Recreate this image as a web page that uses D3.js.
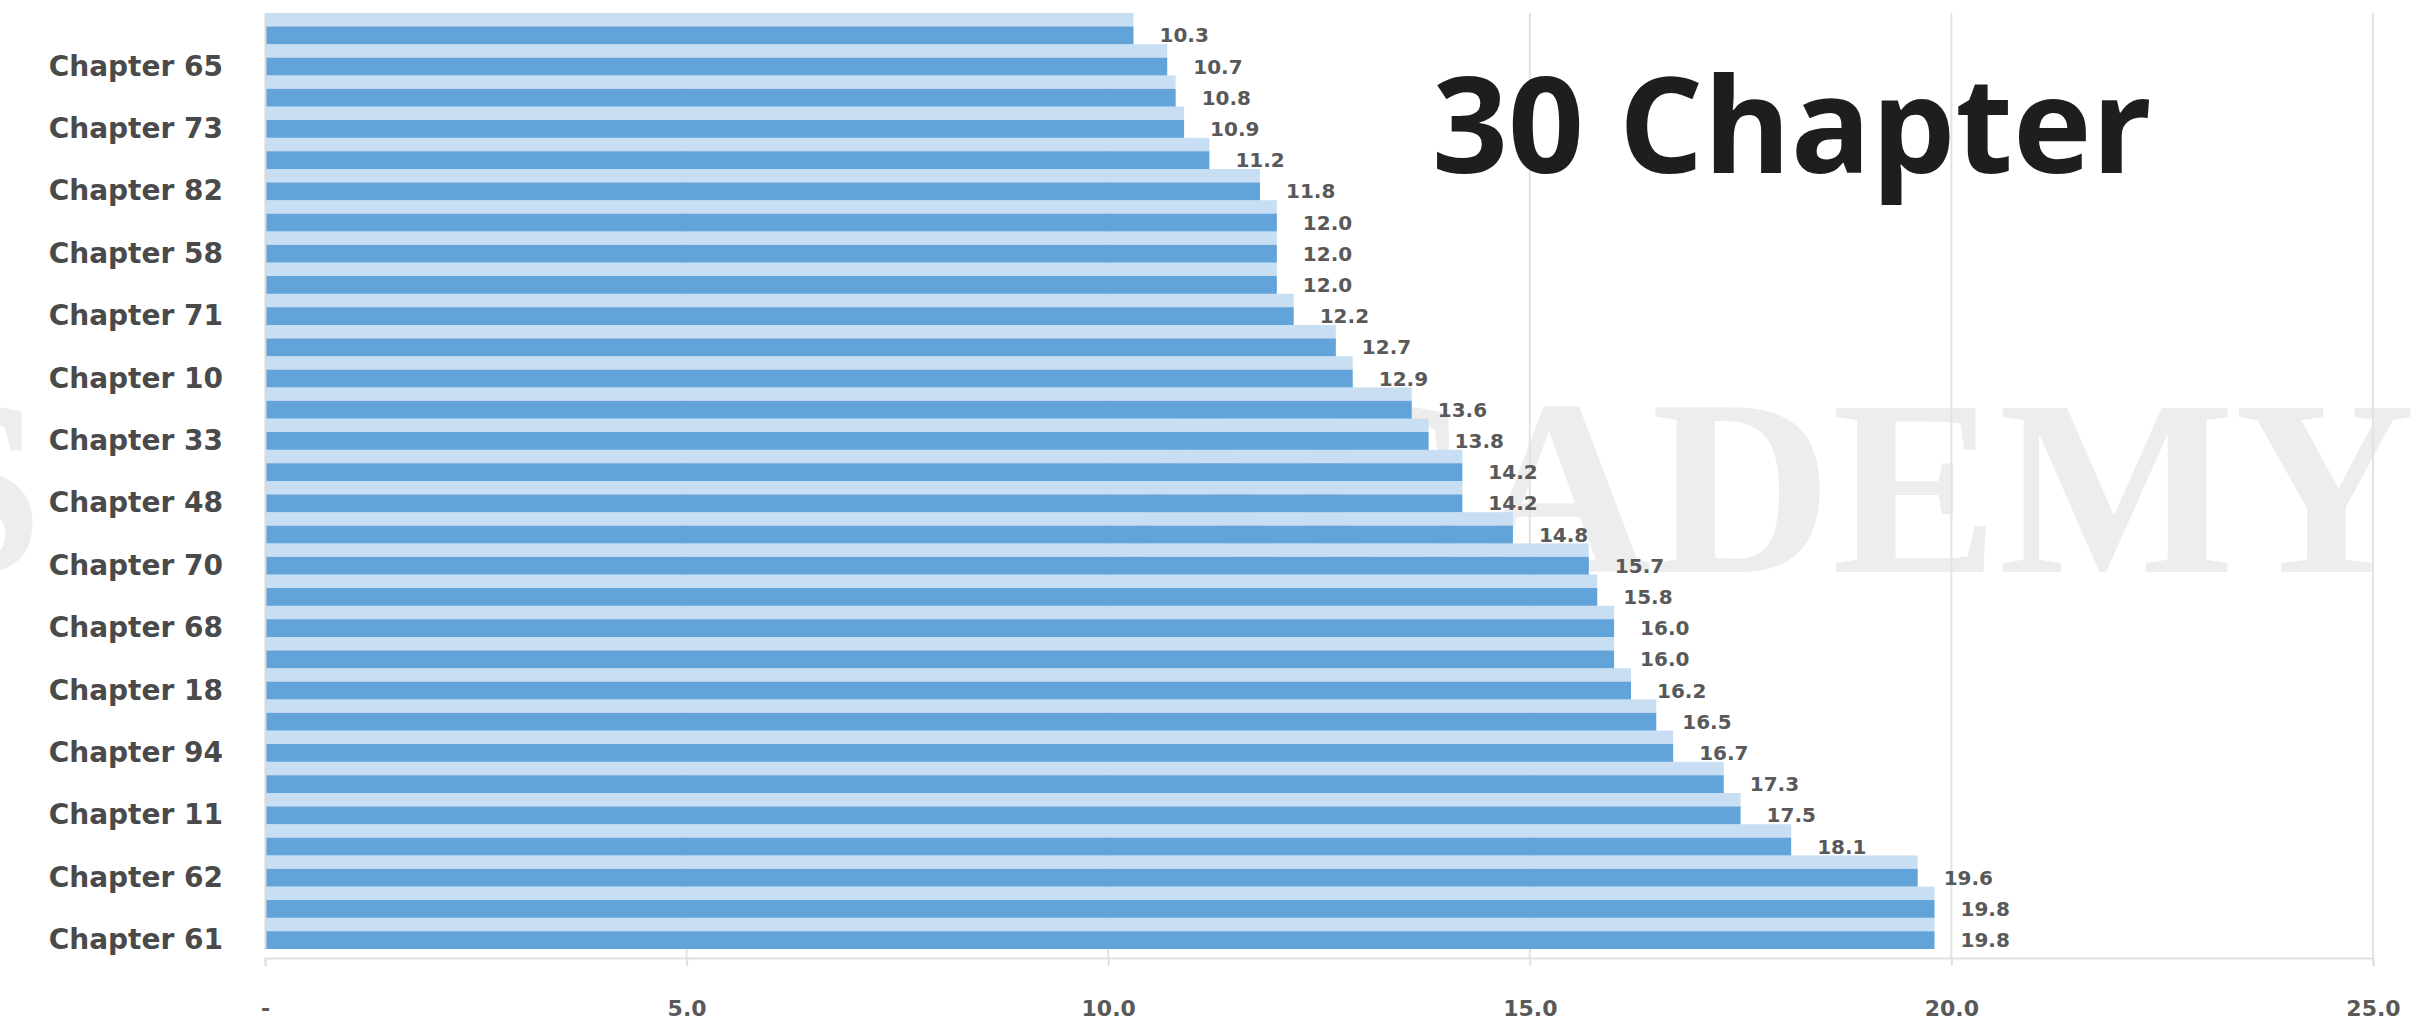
<!DOCTYPE html>
<html>
<head>
<meta charset="utf-8">
<script src="https://cdn.jsdelivr.net/npm/d3@7"></script>
<style>
  html, body { margin: 0; padding: 0; background: #ffffff; }
  svg { display: block; }
</style>
</head>
<body>
<svg id="chart" width="2419" height="1025"></svg>
<script>
// ---- data (top to bottom as drawn) ----
const categories = [
  "Chapter 86", "Chapter 65", "Chapter 90", "Chapter 73", "Chapter 77",
  "Chapter 82", "Chapter 45", "Chapter 58", "Chapter 29", "Chapter 71",
  "Chapter 52", "Chapter 10", "Chapter 37", "Chapter 33", "Chapter 24",
  "Chapter 48", "Chapter 80", "Chapter 70", "Chapter 41", "Chapter 68",
  "Chapter 56", "Chapter 18", "Chapter 15", "Chapter 94", "Chapter 66",
  "Chapter 11", "Chapter 89", "Chapter 62", "Chapter 50", "Chapter 61"
];
const values = [
  10.3, 10.7, 10.8, 10.9, 11.2,
  11.8, 12.0, 12.0, 12.0, 12.2,
  12.7, 12.9, 13.6, 13.8, 14.2,
  14.2, 14.8, 15.7, 15.8, 16.0,
  16.0, 16.2, 16.5, 16.7, 17.3,
  17.5, 18.1, 19.6, 19.8, 19.8
];
// every other category label is shown (Excel skips alternate labels)
const shownLabels = categories.filter((c, i) => i % 2 === 1);
const xTickValues = [0, 5, 10, 15, 20, 25];
const xTickLabels = ["-", "5.0", "10.0", "15.0", "20.0", "25.0"];
const titleText = "30 Chapter";

const data = categories.map((c, i) => ({ cat: c, v: values[i] }));

const svg = d3.select("#chart");

const x = d3.scaleLinear().domain([0, 25]).range([265, 2373]);
const y = d3.scaleBand().domain(categories).range([13, 949]).padding(0);

const plotTop = 13, plotBottom = 958;

// watermark (behind everything)
const wm = svg.append("g").attr("class", "watermark")
  .attr("font-family", "'Liberation Serif', 'DejaVu Serif', serif")
  .attr("font-weight", "bold")
  .attr("font-size", 250)
  .attr("fill", "#ededed");
wm.append("text").attr("x", -96).attr("y", 572).text("S");
wm.append("text").attr("x", 2415).attr("y", 572).attr("text-anchor", "end").text("ACADEMY");

// vertical gridlines
svg.append("g").attr("class", "grid")
  .selectAll("line")
  .data(xTickValues.slice(1))
  .join("line")
  .attr("x1", d => x(d)).attr("x2", d => x(d))
  .attr("y1", plotTop).attr("y2", plotBottom)
  .attr("stroke", "#e3e3e3").attr("stroke-width", 2);

// bars: light upper part + dark lower part
const bh = y.bandwidth();
const lightFrac = 0.43;
const bars = svg.append("g").attr("class", "bars");
bars.selectAll("rect.light")
  .data(data)
  .join("rect")
  .attr("class", "light")
  .attr("x", x(0))
  .attr("y", d => y(d.cat))
  .attr("width", d => x(d.v) - x(0))
  .attr("height", bh * lightFrac)
  .attr("fill", "#c8dff3");
bars.selectAll("rect.dark")
  .data(data)
  .join("rect")
  .attr("class", "dark")
  .attr("x", x(0))
  .attr("y", d => y(d.cat) + bh * lightFrac)
  .attr("width", d => x(d.v) - x(0))
  .attr("height", bh * (1 - lightFrac))
  .attr("fill", "#62a4da");

// data labels
svg.append("g").attr("class", "labels")
  .selectAll("text")
  .data(data)
  .join("text")
  .attr("x", d => x(d.v) + 26)
  .attr("y", d => y(d.cat) + bh * lightFrac + bh * (1 - lightFrac) / 2)
  .attr("dy", "0.35em")
  .attr("font-family", "'DejaVu Sans', sans-serif")
  .attr("font-weight", "bold")
  .attr("font-size", 20)
  .attr("fill", "#595959")
  .text(d => d.v.toFixed(1));

// x axis
const xAxis = d3.axisBottom(x)
  .tickValues(xTickValues)
  .tickFormat((d, i) => xTickLabels[i])
  .tickSize(8)
  .tickPadding(34);
const gx = svg.append("g")
  .attr("transform", `translate(0,${plotBottom})`)
  .call(xAxis);
gx.select(".domain").attr("stroke", "#e0e0e0").attr("stroke-width", 2);
gx.selectAll(".tick line").attr("stroke", "#e0e0e0").attr("stroke-width", 2);
gx.selectAll(".tick text")
  .attr("font-family", "'DejaVu Sans', sans-serif")
  .attr("font-weight", "bold")
  .attr("font-size", 22)
  .attr("fill", "#595959");

// y axis (left)
const yAxis = d3.axisLeft(y)
  .tickValues(shownLabels)
  .tickSize(0)
  .tickPadding(42);
const gy = svg.append("g")
  .attr("transform", `translate(${x(0)},0)`)
  .call(yAxis);
gy.select(".domain").attr("stroke", "#d9d9d9").attr("stroke-width", 2);
gy.selectAll(".tick text")
  .attr("y", bh * 0.22)
  .attr("font-family", "'DejaVu Sans', sans-serif")
  .attr("font-weight", "bold")
  .attr("font-size", 28)
  .attr("fill", "#4a4a4a");

// title inside plot
svg.append("text")
  .attr("x", 1432)
  .attr("y", 173)
  .attr("font-family", "'Open Sans', sans-serif")
  .attr("font-weight", 700)
  .attr("font-size", 133)
  .attr("fill", "#1e1e1e")
  .text(titleText);
</script>
</body>
</html>
